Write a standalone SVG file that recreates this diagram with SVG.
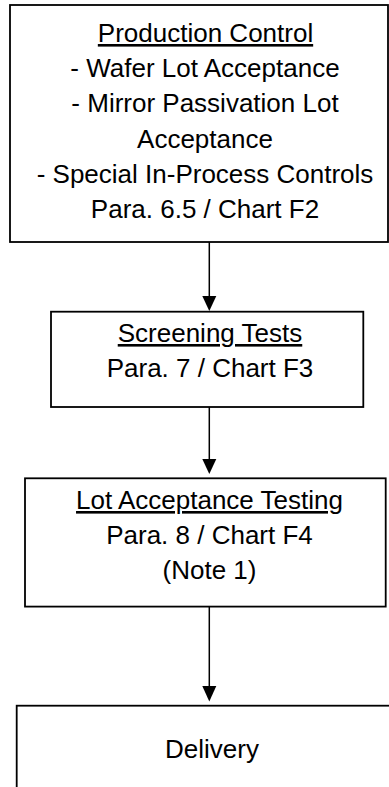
<svg xmlns="http://www.w3.org/2000/svg" width="389" height="787" viewBox="0 0 389 787">
<style>
.box{fill:#fff;stroke:#000;stroke-width:1.8}
.t{font-family:"Liberation Sans",Arial,sans-serif;font-size:26px;fill:#000;text-anchor:middle}
.u{text-decoration:underline}
.c{stroke:#000;stroke-width:1.5;fill:none}
.h{fill:#000}
</style>
<g id="connectors">
<line class="c" x1="209.3" y1="242" x2="209.3" y2="296"/>
<path class="h" d="M202.3,296 L216.3,296 L209.3,311 Z"/>
<line class="c" x1="209.3" y1="407" x2="209.3" y2="459"/>
<path class="h" d="M202.3,459 L216.3,459 L209.3,474 Z"/>
<line class="c" x1="209.3" y1="607" x2="209.3" y2="686"/>
<path class="h" d="M202.3,686 L216.3,686 L209.3,701.5 Z"/>
</g>
<g id="production-control">
<rect class="box" x="10" y="5" width="378" height="237"/>
<text class="t u" x="205.5" y="42">Production Control</text>
<text class="t" x="205" y="77.2">- Wafer Lot Acceptance</text>
<text class="t" x="205" y="112.4">- Mirror Passivation Lot</text>
<text class="t" x="205" y="147.6">Acceptance</text>
<text class="t" x="205" y="182.8">- Special In-Process Controls</text>
<text class="t" x="205" y="218">Para. 6.5 / Chart F2</text>
</g>
<g id="screening-tests">
<rect class="box" x="51" y="311.7" width="312.3" height="95.3"/>
<text class="t u" x="210" y="342">Screening Tests</text>
<text class="t" x="210" y="377">Para. 7 / Chart F3</text>
</g>
<g id="lot-acceptance">
<rect class="box" x="25" y="478.3" width="360.7" height="128.3"/>
<text class="t u" x="209.5" y="509">Lot Acceptance Testing</text>
<text class="t" x="209.5" y="544">Para. 8 / Chart F4</text>
<text class="t" x="209.5" y="579">(Note 1)</text>
</g>
<g id="delivery">
<rect class="box" x="16.7" y="705.7" width="400" height="120"/>
<text class="t" x="212" y="758">Delivery</text>
</g>
</svg>
